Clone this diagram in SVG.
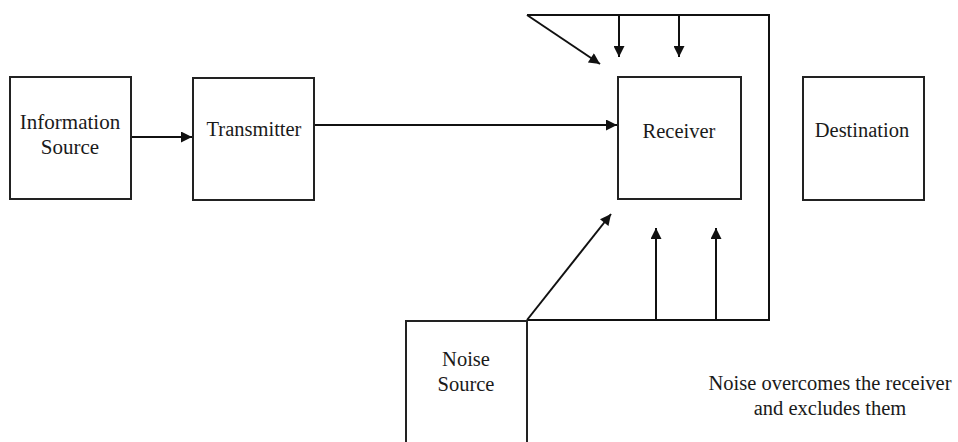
<svg xmlns="http://www.w3.org/2000/svg" width="958" height="442" viewBox="0 0 958 442">
<style>
.box{fill:#fff;stroke:#222;stroke-width:2}
.ln{fill:none;stroke:#111;stroke-width:2}
text{font-family:"Liberation Serif","Times New Roman",serif;font-size:20.5px;fill:#1a1a1a;text-anchor:middle}
.cap{font-size:20.5px}
</style>
<defs>
<marker id="ah" viewBox="0 0 10 10" refX="10" refY="5" markerWidth="6" markerHeight="5.5" markerUnits="strokeWidth" orient="auto">
<path d="M0,0 L10,5 L0,10 Z" fill="#111"/>
</marker>
</defs>
<rect width="958" height="442" fill="#fff"/>
<g id="connectors">
<line class="ln" x1="131" y1="137" x2="192" y2="137" marker-end="url(#ah)"/>
<line class="ln" x1="314" y1="125" x2="617" y2="125" marker-end="url(#ah)"/>
<polyline class="ln" points="527,15 769,15 769,320 527,320"/>
<line class="ln" x1="527" y1="15" x2="600" y2="64" marker-end="url(#ah)"/>
<line class="ln" x1="619" y1="15" x2="619" y2="57" marker-end="url(#ah)"/>
<line class="ln" x1="679" y1="15" x2="679" y2="57" marker-end="url(#ah)"/>
<line class="ln" x1="527" y1="320" x2="611" y2="214" marker-end="url(#ah)"/>
<line class="ln" x1="656" y1="320" x2="656" y2="228" marker-end="url(#ah)"/>
<line class="ln" x1="716" y1="320" x2="716" y2="228" marker-end="url(#ah)"/>
</g>
<g id="information-source">
<rect class="box" x="10" y="77" width="121" height="122"/>
<text x="70" y="129" style="font-size:21px">Information</text>
<text x="70" y="154" style="font-size:21px">Source</text>
</g>
<g id="transmitter">
<rect class="box" x="193" y="78" width="121" height="122"/>
<text x="254" y="136">Transmitter</text>
</g>
<g id="receiver">
<rect class="box" x="618" y="77" width="123" height="122"/>
<text x="679" y="138">Receiver</text>
</g>
<g id="destination">
<rect class="box" x="803" y="77" width="121" height="123"/>
<text x="862" y="137">Destination</text>
</g>
<g id="noise-source">
<rect class="box" x="406" y="321" width="121" height="130"/>
<text x="466" y="366">Noise</text>
<text x="466" y="391">Source</text>
</g>
<g id="caption">
<text class="cap" x="830" y="390">Noise overcomes the receiver</text>
<text class="cap" x="830" y="415">and excludes them</text>
</g>
</svg>
